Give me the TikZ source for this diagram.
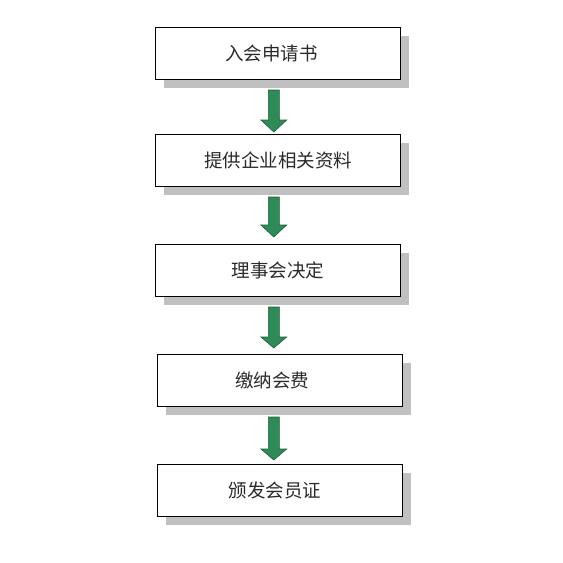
\documentclass[tikz,border=0pt]{standalone}
\usepackage{fontspec}
\setmainfont{Noto Sans CJK SC}
\definecolor{shadowgray}{HTML}{C0C0C0}
\definecolor{arrowgreen}{HTML}{2E8B57}
\definecolor{arrowedge}{HTML}{1D5E3A}
\definecolor{textgray}{HTML}{2A2A2A}
\begin{document}
\begin{tikzpicture}[x=1pt,y=-1pt,
  stepbox/.style={draw=black,line width=0.9pt,fill=white,minimum width=245pt,minimum height=52pt,inner sep=0pt,font=\fontsize{18.5}{21}\selectfont,text=textgray},
  shadowbox/.style={fill=shadowgray,draw=none},
  flowarrow/.style={fill=arrowgreen,draw=arrowedge,line width=0.6pt}]
\useasboundingbox (0,0) rectangle (563,563);
% shadows
\foreach \l/\t in {155/27.5,155/134.5,155/244.5,157.5/354.5,157.5/464.5}{
  \fill[shadowbox] (\l+8.5,\t+8.5) rectangle (\l+253.5,\t+60.5);
}
\node[stepbox] (b1) at (277.8,53.5) {\hspace*{-13pt}入会申请书};
\node[stepbox] (b2) at (277.8,160.5) {\hspace*{1pt}提供企业相关资料};
\node[stepbox] (b3) at (277.8,270.5) {理事会决定};
\node[stepbox] (b4) at (280,380.5) {\hspace*{-16pt}缴纳会费};
\node[stepbox] (b5) at (280,490.5) {\hspace*{-10pt}颁发会员证};
% arrows
\foreach \a/\h/\b in {90/120/132, 197/225/237, 307/337/348, 417/449/460}{
  \draw[flowarrow] (268.3,\a) -- (279.3,\a) -- (279.3,\h) -- (286.7,\h) -- (273.8,\b) -- (260.9,\h) -- (268.3,\h) -- cycle;
}
\end{tikzpicture}
\end{document}
